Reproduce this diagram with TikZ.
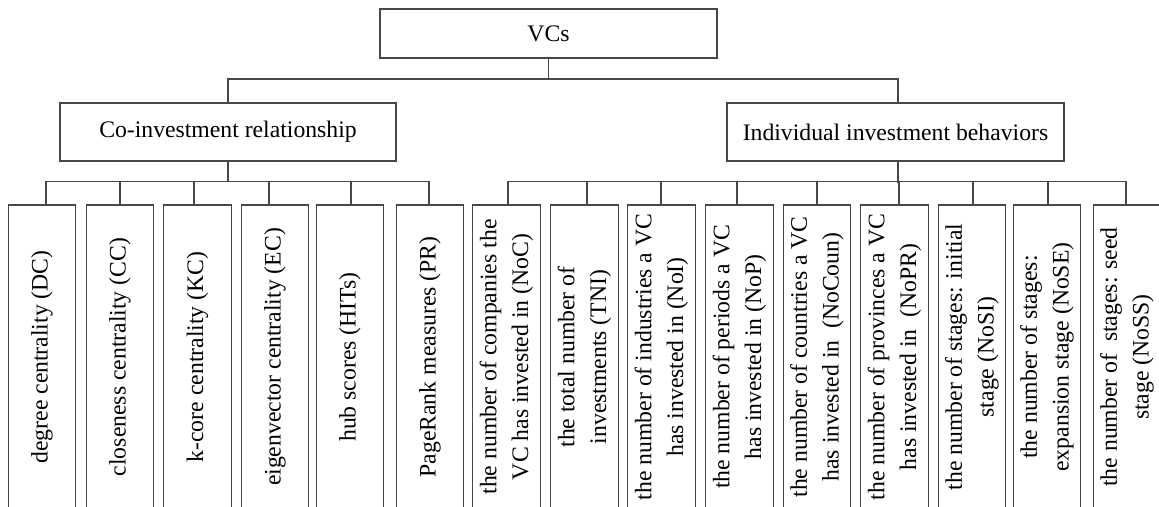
\documentclass[tikz,border=0pt]{standalone}
\usepackage{fontspec}
\setmainfont{Liberation Serif}
\newcommand\labfont{\fontsize{23.7}{31.7}\selectfont}
\begin{document}
\begin{tikzpicture}[x=1pt,y=-1pt,
  box/.style={draw=black!72,line width=1.3pt,inner sep=0pt,font=\labfont},
  leaf/.style={draw=black!72,line width=1.3pt,inner sep=0pt,minimum width=67.5pt,minimum height=304pt},
  lab/.style={rotate=90,align=center,inner sep=0pt,font=\labfont},
  conn/.style={draw=black!72,line width=1.3pt}]
\fill[white] (0,0) rectangle (1159,506);
\useasboundingbox (0,0) rectangle (1159,506);
\clip (0,0) rectangle (1159,506);

\coordinate (topbar) at (0,79);
\coordinate (bar) at (0,182);

\node[box,minimum width=337pt,minimum height=49pt] (vc) at (548.5,33.5) {VCs};
\node[box,minimum width=336pt,minimum height=58pt] (cr) at (228,132) {Co-investment relationship};
\node[box,minimum width=337pt,minimum height=58pt] (ib) at (895.5,132) {Individual investment behaviors};

% leaves
\node[leaf] (b1) at (42,357) {};
\node[leaf] (b2) at (120,357) {};
\node[leaf] (b3) at (197.5,357) {};
\node[leaf] (b4) at (275,357) {};
\node[leaf] (b5) at (350,357) {};
\node[leaf] (b6) at (430,357) {};
\node[leaf] (b7) at (506.5,357) {};
\node[leaf] (b8) at (584.5,357) {};
\node[leaf] (b9) at (661.5,357) {};
\node[leaf] (b10) at (739.5,357) {};
\node[leaf] (b11) at (817,357) {};
\node[leaf] (b12) at (894.5,357) {};
\node[leaf] (b13) at (972,357) {};
\node[leaf] (b14) at (1047,357) {};
\node[leaf] (b15) at (1127,357) {};

\node[lab] (t1) at (b1) {degree centrality (DC)};
\node[lab] (t2) at (b2) {closeness centrality (CC)};
\node[lab] (t3) at (b3) {k-core centrality (KC)};
\node[lab] (t4) at (b4) {eigenvector centrality (EC)};
\node[lab] (t5) at (b5) {hub scores (HITs)};
\node[lab] (t6) at (b6) {PageRank measures (PR)};
\node[lab] (t7) at (b7) {the number of companies the\\VC has invested in (NoC)};
\node[lab] (t8) at (b8) {the total number of\\investments (TNI)};
\node[lab] (t9) at (b9) {the number of industries a VC\\has invested in (NoI)};
\node[lab] (t10) at (b10) {the number of periods a VC\\has invested in (NoP)};
\node[lab] (t11) at (b11) {the number of countries a VC\\has invested in\ \ (NoCoun)};
\node[lab] (t12) at (b12) {the number of provinces a VC\\has invested in\ \ (NoPR)};
\node[lab] (t13) at (b13) {the number of stages: initial\\stage (NoSI)};
\node[lab] (t14) at (b14) {the number of stages:\\expansion stage (NoSE)};
\node[lab] (t15) at (b15) {the number of\ \ stages: seed\\stage (NoSS)};

% top level connectors
\draw[conn] (vc.south) -- (vc.south |- topbar);
\draw[conn] (cr.north) -- (cr.north |- topbar) -| ([xshift=2.5pt]ib.north);

% group bars
\draw[conn] (cr.south) -- (cr.south |- bar);
\draw[conn] ([xshift=2.5pt]ib.south) -- ([xshift=2.5pt,yshift=-21pt]ib.south);
\draw[conn] ([xshift=4pt,yshift=23pt]b1.north) -- ([xshift=-1pt,yshift=23pt]b6.north);
\draw[conn] ([xshift=1.5pt,yshift=23pt]b7.north) -- ([xshift=-1pt,yshift=23pt]b15.north);

% ticks
\foreach \n/\d in {b1/4,b2/0,b3/-3.5,b4/-6,b5/1,b6/-1,b7/1.5,b8/2.5,b9/-0.5,b10/-2.5,b11/0,b12/4.5,b13/1,b14/1,b15/-1}
  \draw[conn] ([xshift=\d pt]\n.north) -- ([xshift=\d pt,yshift=23pt]\n.north);
\end{tikzpicture}
\end{document}
